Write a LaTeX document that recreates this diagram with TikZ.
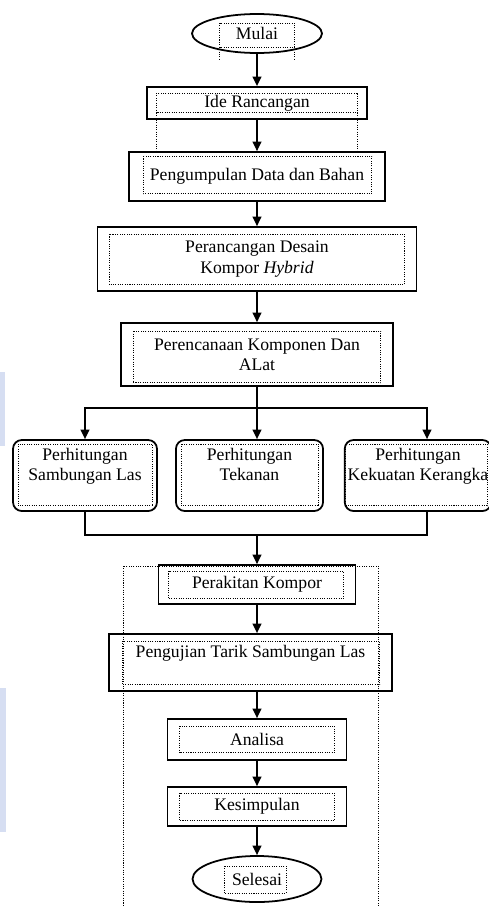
\documentclass[tikz,border=0pt]{standalone}
\usepackage{fontspec}
\setmainfont{Liberation Serif}
\usepackage{tikz}
\usetikzlibrary{arrows.meta,shapes.geometric}

\definecolor{scanblue}{RGB}{214,222,242}

\tikzset{
  box/.style={draw, line width=1.2pt, align=center, inner sep=2pt,
    font=\fontsize{12}{13.8}\selectfont},
  rbox/.style={box, rounded corners=6pt, text depth=15pt},
  term/.style={box, ellipse},
  frame/.style={line width=0.6pt, dash pattern=on 0.7pt off 0.9pt},
  wire/.style={line width=1pt},
  link/.style={wire, -{Triangle[width=6pt,length=6.5pt]}}
}

\begin{document}
\begin{tikzpicture}[x=0.68pt, y=-0.68pt]
    \useasboundingbox (0,0) rectangle (489,907);
    \fill [scanblue] (0,372) rectangle (5,446);
    \fill [scanblue] (0,688) rectangle (6,832);

    \node [term, minimum width=88.4pt, minimum height=26.5pt] (mulai) at (257,33.5) {Mulai};
    \node [box, minimum width=149.6pt, minimum height=21.8pt] (ide) at (257,103) {Ide Rancangan};
    \node [box, minimum width=174.1pt, minimum height=33.3pt] (kumpul) at (257,176.5) {Pengumpulan Data dan Bahan};
    \node [box, minimum width=216.9pt, minimum height=43.5pt] (desain) at (257,259) {Perancangan Desain\\Kompor \textit{Hybrid}};
    \node [box, minimum width=185pt, minimum height=42.8pt] (rencana) at (257,354.5) {Perencanaan Komponen Dan\\ALat};
    \node [rbox, minimum width=97.9pt, minimum height=48.3pt] (las) at (85,475.5) {Perhitungan\\Sambungan Las};
    \node [rbox, minimum width=100pt, minimum height=48.3pt] (tekanan) at (249.5,475.5) {Perhitungan\\Tekanan};
    \node [rbox, minimum width=99.3pt, minimum height=48.3pt] (rangka) at (418,475.5) {Perhitungan\\Kekuatan Kerangka};
    \node [box, minimum width=134pt, minimum height=26.5pt] (rakit) at (257,584.5) {Perakitan Kompor};
    \node [box, minimum width=192.4pt, minimum height=38.8pt, text depth=14.5pt] (uji) at (250.5,662.5) {Pengujian Tarik Sambungan Las};
    \node [box, minimum width=121.7pt, minimum height=27.9pt] (analisa) at (257,739.5) {Analisa};
    \node [box, minimum width=121.7pt, minimum height=26.5pt] (simpul) at (257,806.5) {Kesimpulan};
    \node [term, minimum width=87.7pt, minimum height=31.3pt] (selesai) at (257,879) {Selesai};

    % alur utama
    \draw [link] (mulai.south) -- (ide.north);
    \draw [link] (ide.south) -- (kumpul.north);
    \draw [link] (kumpul.south) -- (desain.north);
    \draw [link] (desain.south) -- (rencana.north);
    \coordinate (pisah) at (257,408);
    \coordinate (gabung) at (257,535);
    \coordinate (kanan) at ([shift={(9,0)}]rangka.north);
    \draw [wire] (rencana.south) -- (pisah);
    \draw [link] (pisah) -| (las.north);
    \draw [link] (pisah) -- (pisah |- tekanan.north);
    \draw [link] (pisah) -| (kanan);
    \draw [wire] (las.south) |- (gabung) -| (kanan |- rangka.south);
    \draw [link] (gabung) -- (rakit.north);
    \draw [link] (rakit.south) -- (rakit.south |- uji.north);
    \draw [link] (analisa.north |- uji.south) -- (analisa.north);
    \draw [link] (analisa.south) -- (simpul.north);
    \draw [link] (simpul.south) -- (selesai.north);

    % bingkai teks bertitik
    \draw [frame] (123,566) rectangle (378,912);
    \foreach \n/\l/\t/\r/\b in {ide/10/7/10/7, kumpul/15/5/14/8, desain/13/8/13/7,
        rencana/13/9/13/4, las/6/5/5/6, tekanan/6/5/5/6, rangka/2/5/5/6,
        rakit/11/7/13/6, uji/14/8/13/7, analisa/13/8/13/8, simpul/13/7/13/6}
        \draw [frame] ([shift={(\l,\t)}]\n.north west) rectangle ([shift={(-\r,-\b)}]\n.south east);
    \draw [frame] ([shift={(10,-7)}]ide.south west) -- ++(0,40);
    \draw [frame] ([shift={(-10,-7)}]ide.south east) -- ++(0,40);
    \draw [frame] ([shift={(-37.5,-10.5)}]mulai.center) rectangle ([shift={(37.5,13.5)}]mulai.center);
    \draw [frame] ([shift={(-37.5,13.5)}]mulai.center) -- ++(0,13);
    \draw [frame] ([shift={(37.5,13.5)}]mulai.center) -- ++(0,13);
    \draw [frame] ([shift={(-33,-13)}]selesai.center) rectangle ([shift={(29,14)}]selesai.center);
\end{tikzpicture}
\end{document}
